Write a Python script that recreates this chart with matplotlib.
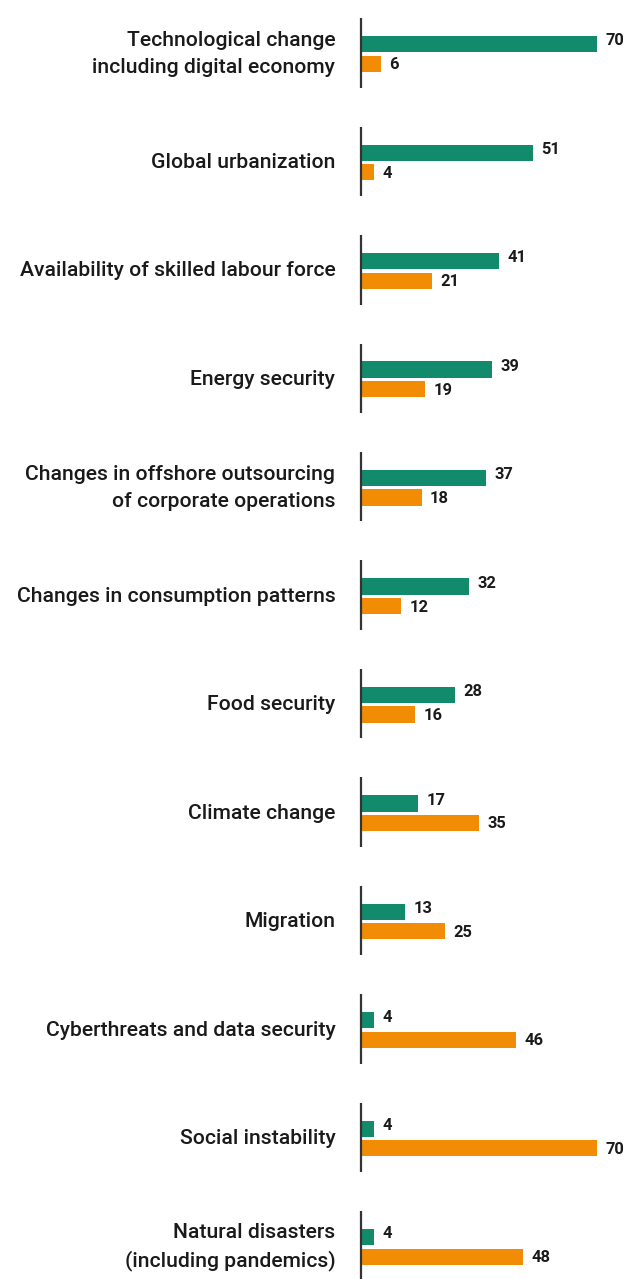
import matplotlib
matplotlib.use("Agg")
import matplotlib.pyplot as plt
from matplotlib import font_manager

# Survey data: share of respondents citing each megatrend
categories = [
    "Technological change\nincluding digital economy",
    "Global urbanization",
    "Availability of skilled labour force",
    "Energy security",
    "Changes in offshore outsourcing\nof corporate operations",
    "Changes in consumption patterns",
    "Food security",
    "Climate change",
    "Migration",
    "Cyberthreats and data security",
    "Social instability",
    "Natural disasters\n(including pandemics)",
]
opportunity = [70, 51, 41, 39, 37, 32, 28, 17, 13, 4, 4, 4]
risk = [6, 4, 21, 19, 18, 12, 16, 35, 25, 46, 70, 48]

GREEN = "#128a6c"
ORANGE = "#f28c05"
TEXT = "#1a1a1a"


def pick_family():
    for name in ["Liberation Sans Narrow", "Roboto", "Liberation Sans"]:
        try:
            font_manager.findfont(font_manager.FontProperties(family=name),
                                  fallback_to_default=False)
            return name
        except Exception:
            continue
    return "DejaVu Sans"


FAMILY = pick_family()
plt.rcParams["font.family"] = [FAMILY, "DejaVu Sans"]

W, H, DPI = 627, 1279, 100
fig = plt.figure(figsize=(W / DPI, H / DPI), dpi=DPI)
fig.patch.set_facecolor("white")

axis_px = 361
px_per_unit = (597 - axis_px) / 70.0
first_px, step_px = 54.0, 108.45

ax = fig.add_axes([axis_px / W, 0, 1 - axis_px / W, 1])
ax.set_xlim(0, (W - axis_px) / px_per_unit)
ax.set_ylim((H - first_px) / step_px, -first_px / step_px)
ax.axis("off")

n = len(categories)
ys = list(range(n))
bar_h = 0.15
off = 0.09

ax.barh([y - off for y in ys], opportunity, height=bar_h, color=GREEN,
        edgecolor="none", zorder=2)
ax.barh([y + off for y in ys], risk, height=bar_h, color=ORANGE,
        edgecolor="none", zorder=2)

# Short axis stub for each group
for y in ys:
    ax.plot([0, 0], [y - 0.33, y + 0.31], color="#333333", lw=1.6,
            solid_capstyle="butt", zorder=3, clip_on=False)

val_texts = []
for y, g, o in zip(ys, opportunity, risk):
    for v, yy in ((g, y - off - 0.03), (o, y + off + 0.01)):
        t = ax.annotate(str(v), xy=(v, yy), xytext=(6, 0),
                        textcoords="offset points", ha="left", va="center",
                        fontsize=15, color=TEXT, fontweight="bold")
        val_texts.append(t)

label_texts = []
for y, cat in zip(ys, categories):
    t = ax.annotate(cat, xy=(0, y), xytext=(-18.5, 0),
                    textcoords="offset points", ha="right", va="center",
                    fontsize=18, color=TEXT, linespacing=1.5,
                    fontweight="medium", annotation_clip=False)
    label_texts.append(t)

# Scale the category labels so the widest single line spans the left margin
fig.canvas.draw()
renderer = fig.canvas.get_renderer()
ref = label_texts[5]
w = ref.get_window_extent(renderer).width
target = 318.0
scale = target / w
for t in label_texts:
    t.set_fontsize(18 * scale)

# Value labels: two digits roughly 20 px wide
fig.canvas.draw()
w2 = val_texts[0].get_window_extent(renderer).width
vscale = 19.0 / w2
for t in val_texts:
    t.set_fontsize(15 * vscale)

fig.savefig("out.png", dpi=DPI, facecolor="white")
